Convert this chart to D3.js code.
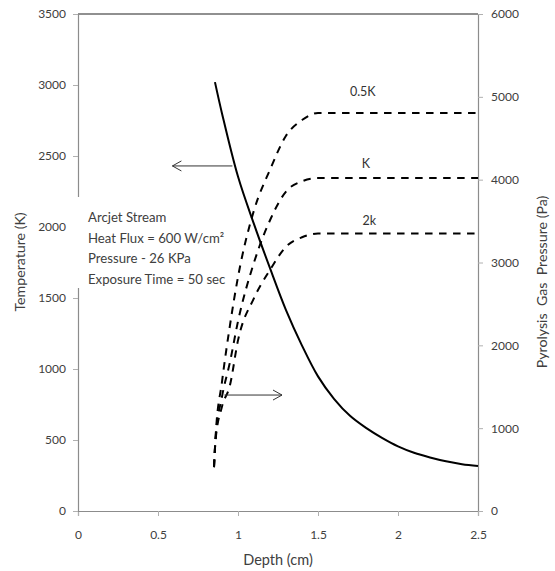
<!DOCTYPE html>
<html><head><meta charset="utf-8">
<script src="https://cdn.jsdelivr.net/npm/d3@7"></script>
<style>body{margin:0;background:#fff}svg{display:block}</style>
</head><body>
<script>
// ---- data ----
const depthTicks = [0, 0.5, 1, 1.5, 2, 2.5];
const tempTicks = [0, 500, 1000, 1500, 2000, 2500, 3000, 3500];
const presTicks = [0, 1000, 2000, 3000, 4000, 5000, 6000];

const tempDepth = [0.856, 0.9, 1.0, 1.1, 1.2, 1.3, 1.4, 1.5, 1.6, 1.7, 1.8, 1.9, 2.0, 2.1, 2.2, 2.3, 2.4, 2.5];
const tempValues = [3020, 2800, 2355, 2020, 1710, 1415, 1165, 948, 790, 670, 585, 515, 455, 410, 377, 350, 330, 317];

const presDepth = [0.85, 0.86, 0.9, 0.95, 1.0, 1.1, 1.2, 1.3, 1.4, 1.5, 2.0, 2.5];
const pres05K = [530, 900, 1560, 2245, 2825, 3630, 4120, 4530, 4720, 4805, 4805, 4805];
const presK   = [530, 880, 1380, 1800, 2290, 3000, 3510, 3857, 3980, 4020, 4020, 4020];
const pres2k  = [530, 860, 1260, 1520, 2060, 2570, 2910, 3190, 3305, 3350, 3350, 3350];
const seriesLabels = ["0.5K", "K", "2k"];
const labelDepth = [1.78, 1.8, 1.82];
const labelPres = [5010, 4140, 3450];

const noteLines = ["Arcjet Stream", "Heat Flux = 600 W/cm\u00b2", "Pressure - 26 KPa", "Exposure Time = 50 sec"];

// ---- layout ----
const W = 555, H = 571;
const m = {left: 78, right: 77, top: 14, bottom: 60};
const svg = d3.select("body").append("svg").attr("width", W).attr("height", H);
const x = d3.scaleLinear().domain([0, 2.5]).range([m.left, W - m.right]);
const yT = d3.scaleLinear().domain([0, 3500]).range([H - m.bottom, m.top]);
const yP = d3.scaleLinear().domain([0, 6000]).range([H - m.bottom, m.top]);
const font = "Lato, 'Open Sans', sans-serif";
const textCol = "#404040";
const axisCol = "#8c8c8c";

// frame top
svg.append("line").attr("x1", x(0)).attr("x2", x(2.5)).attr("y1", yT(3500)).attr("y2", yT(3500))
  .attr("stroke", "#222").attr("stroke-width", 1.2);

function styleAxis(g) {
  g.selectAll(".domain").attr("stroke", axisCol).attr("stroke-width", 1.2);
  g.selectAll(".tick line").attr("stroke", "#b0b0b0");
  g.selectAll(".tick text").attr("fill", textCol).attr("font-family", font).attr("font-size", 12);
}
const gx = svg.append("g").attr("transform", `translate(0,${yT(0)})`)
  .call(d3.axisBottom(x).tickValues(depthTicks).tickFormat(d3.format("")).tickSizeOuter(0).tickSize(5).tickPadding(14));
styleAxis(gx);
const gl = svg.append("g").attr("transform", `translate(${x(0)},0)`)
  .call(d3.axisLeft(yT).tickValues(tempTicks).tickFormat(d3.format("")).tickSizeOuter(0).tickSize(5).tickPadding(7));
styleAxis(gl);
const gr = svg.append("g").attr("transform", `translate(${x(2.5)},0)`)
  .call(d3.axisRight(yP).tickValues(presTicks).tickFormat(d3.format("")).tickSizeOuter(0).tickSize(5).tickPadding(8));
styleAxis(gr);

// annotation box (white, covering axis)
const noteG = svg.append("g");
noteG.append("rect").attr("x", 73).attr("y", 197).attr("width", 138).attr("height", 91).attr("fill", "#fff");
noteG.selectAll("text").data(noteLines).join("text")
  .attr("x", 88).attr("y", (d, i) => 222 + i * 20.7)
  .attr("fill", textCol).attr("font-family", font).attr("font-size", 13.2)
  .text(d => d);

// temperature line
const lineT = d3.line().x((d, i) => x(tempDepth[i])).y(d => yT(d)).curve(d3.curveCatmullRom.alpha(0.5));
svg.append("path").attr("d", lineT(tempValues)).attr("fill", "none").attr("stroke", "#000").attr("stroke-width", 2);

// pressure lines
const lineP = d3.line().x((d, i) => x(presDepth[i])).y(d => yP(d)).curve(d3.curveMonotoneX);
[pres05K, presK, pres2k].forEach(s => {
  svg.append("path").attr("d", lineP(s)).attr("fill", "none").attr("stroke", "#000")
    .attr("stroke-width", 2).attr("stroke-dasharray", "7.5,6.5");
});
svg.selectAll(".slabel").data(seriesLabels).join("text").attr("class", "slabel")
  .attr("x", (d, i) => x(labelDepth[i])).attr("y", (d, i) => yP(labelPres[i]))
  .attr("text-anchor", "middle").attr("fill", "#333").attr("font-family", font).attr("font-size", 12.5)
  .text(d => d);

// arrows
function arrow(x1, y1, x2, y2) {
  const dir = Math.sign(x2 - x1);
  svg.append("line").attr("x1", x1).attr("x2", x2).attr("y1", y1).attr("y2", y2).attr("stroke", "#333").attr("stroke-width", 1);
  svg.append("path").attr("d", `M${x2 - dir * 9},${y1 - 5}L${x2},${y1}L${x2 - dir * 9},${y1 + 5}`)
    .attr("fill", "none").attr("stroke", "#333").attr("stroke-width", 1);
}
arrow(x(0.965), yT(2430), x(0.59), yT(2430));
arrow(x(0.915), yP(1400), x(1.275), yP(1400));

// axis titles
svg.append("text").attr("x", x(1.25)).attr("y", 565).attr("text-anchor", "middle")
  .attr("fill", textCol).attr("font-family", font).attr("font-size", 14.5).text("Depth (cm)");
svg.append("text").attr("transform", `translate(25,262) rotate(-90)`).attr("text-anchor", "middle")
  .attr("fill", textCol).attr("font-family", font).attr("font-size", 14.2).text("Temperature (K)");
svg.append("text").attr("transform", `translate(547,282) rotate(-90)`).attr("text-anchor", "middle")
  .attr("fill", textCol).attr("font-family", font).attr("font-size", 14.2)
  .style("white-space", "pre").text("Pyrolysis  Gas  Pressure (Pa)");
</script>
</body></html>
